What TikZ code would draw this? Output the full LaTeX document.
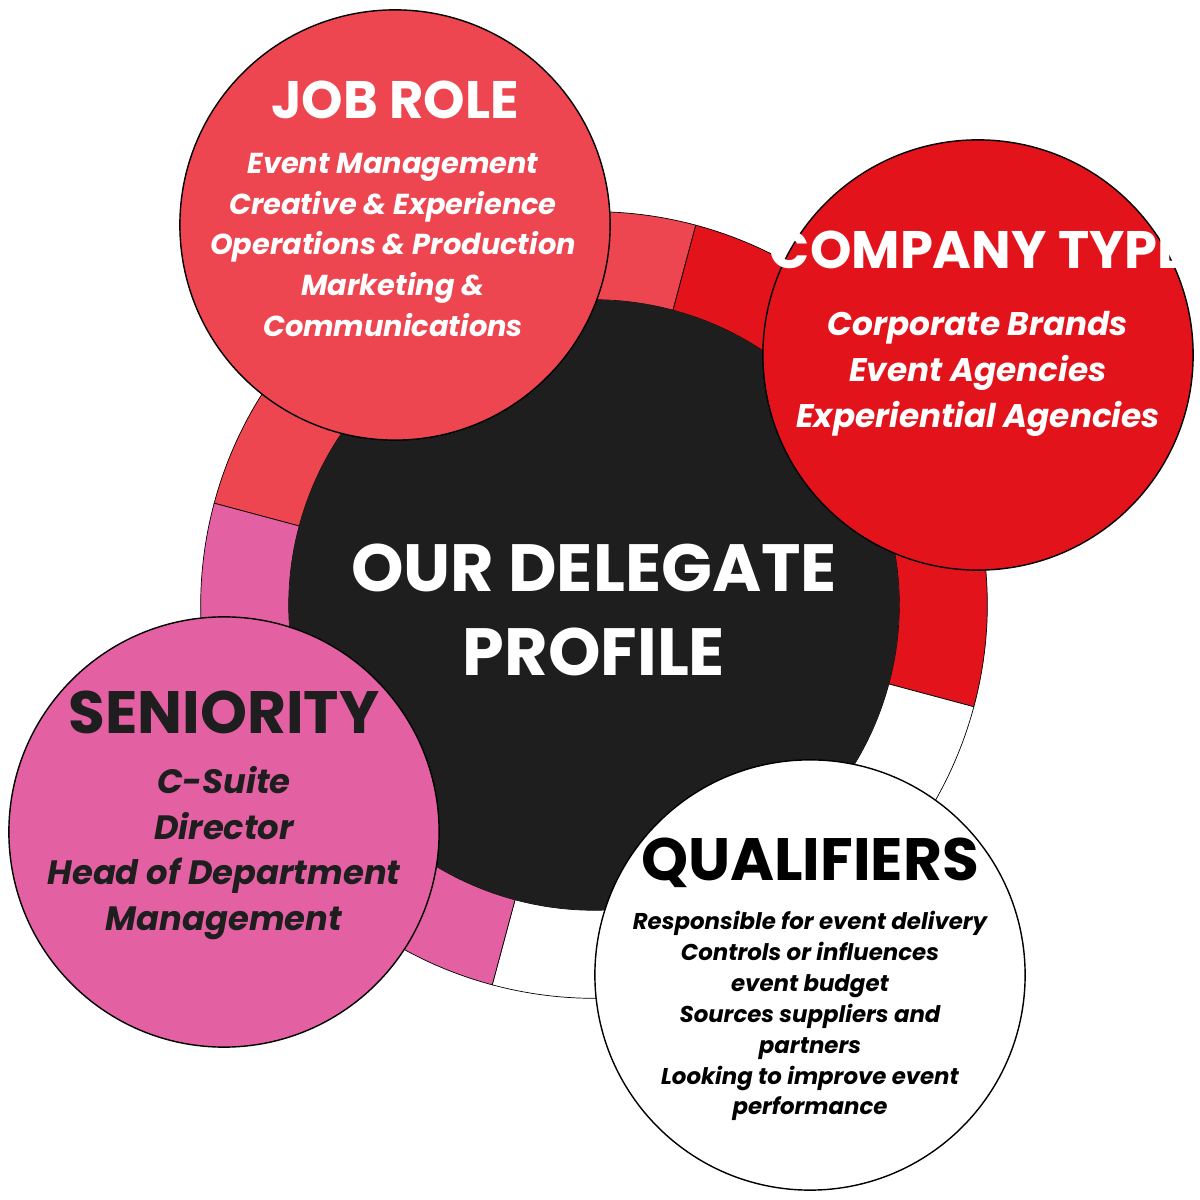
\documentclass[tikz,border=0pt]{standalone}
\usepackage{fontspec}
\setmainfont{Poppins}
\usetikzlibrary{calc}
\definecolor{jobred}{HTML}{EE4650}
\definecolor{compred}{HTML}{E3131B}
\definecolor{senpink}{HTML}{E361A3}
\definecolor{coreblack}{HTML}{1E1E1E}
\tikzset{
  bubble/.style={circle, draw=black, line width=0.4pt, minimum size=4.3cm, inner sep=0pt},
  head/.style={font=\bfseries\fontsize{15}{18}\selectfont},
  items/.style={align=center, font=\bfseries\itshape\fontsize{8.2}{11.6}\selectfont},
  ringseg/.style={draw=black, line width=0.2pt}
}
\begin{document}
\begin{tikzpicture}[x=0.01cm,y=0.01cm]
\useasboundingbox (0,0) rectangle (1200,1200);

% outer ring
\coordinate (core) at (594,595);
\fill[jobred,ringseg] (core) ++(75:3.93cm) arc[start angle=75,end angle=165,radius=3.93cm]
  -- ($(core)+(165:3.05cm)$) arc[start angle=165,end angle=75,radius=3.05cm] -- cycle;
\fill[compred,ringseg] (core) ++(-15:3.93cm) arc[start angle=-15,end angle=75,radius=3.93cm]
  -- ($(core)+(75:3.05cm)$) arc[start angle=75,end angle=-15,radius=3.05cm] -- cycle;
\filldraw[fill=white,ringseg] (core) ++(255:3.93cm) arc[start angle=255,end angle=345,radius=3.93cm]
  -- ($(core)+(345:3.05cm)$) arc[start angle=345,end angle=255,radius=3.05cm] -- cycle;
\fill[senpink,ringseg] (core) ++(165:3.93cm) arc[start angle=165,end angle=255,radius=3.93cm]
  -- ($(core)+(255:3.05cm)$) arc[start angle=255,end angle=165,radius=3.05cm] -- cycle;

% centre
\node[circle, fill=coreblack, minimum size=6.1cm, inner sep=0pt] (profile) at (core) {};
\node[align=center, text=white, font=\bfseries\fontsize{19}{24}\selectfont] at (594,590)
  {OUR DELEGATE\\PROFILE};

% bubbles
\node[bubble, fill=jobred] (jobrole) at (395,975) {};
\node[head, text=white] at (395,1100) {JOB ROLE};
\node[items, text=white] at (393,955) {Event Management\\Creative \& Experience\\Operations \& Production\\Marketing \&\\Communications};

\node[bubble, fill=compred] (company) at (978,845) {};
\node[head, text=white] at (978,950) {COMPANY TYPE};
\node[items, text=white, font=\bfseries\itshape\fontsize{9.3}{13}\selectfont] at (978,826) {Corporate Brands\\Event Agencies\\Experiential Agencies};

\node[bubble, fill=senpink] (seniority) at (224,368) {};
\node[head, text=coreblack, font=\bfseries\fontsize{17}{20}\selectfont] at (224,488) {SENIORITY};
\node[items, text=coreblack, font=\bfseries\itshape\fontsize{9.6}{13}\selectfont] at (224,347) {C-Suite\\Director\\Head of Department\\Management};

\node[bubble, fill=white] (qualifiers) at (810,225) {};
\node[head, text=black, font=\bfseries\fontsize{17}{20}\selectfont] at (810,337) {QUALIFIERS};
\node[items, text=black, font=\bfseries\itshape\fontsize{6.5}{8.8}\selectfont] at (810,184) {Responsible for event delivery\\Controls or influences\\event budget\\Sources suppliers and\\partners\\Looking to improve event\\performance};
\end{tikzpicture}
\end{document}
